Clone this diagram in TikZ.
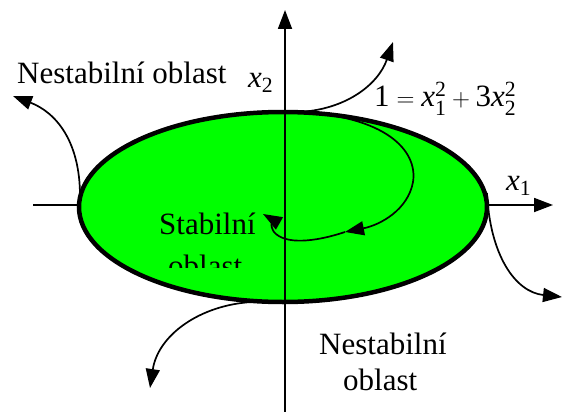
\documentclass[tikz,border=0pt]{standalone}
\usepackage{fontspec}
\usepackage{amsmath}
\setmainfont{Liberation Serif}
\usetikzlibrary{arrows.meta}
\newcommand{\xv}[2]{\textit{x}^{\text{#1}}_{\text{#2}}}

\begin{document}
\begin{tikzpicture}[x=1pt, y=-1pt, >={Triangle[length=19pt,width=14pt]},
  axis/.style={line width=1.8pt},
  traj/.style={line width=1.7pt},
  lbl/.style={font=\fontsize{31}{36}\selectfont, inner sep=0pt, anchor=base west}]
  \useasboundingbox (0,0) rectangle (562,412);
  % axes and stability region
  \coordinate (xl) at (33,205);
  \coordinate (xr) at (553,205);
  \coordinate (yb) at (285,412);
  \coordinate (yt) at (285,10);
  \draw[axis,->] (xl) -- (xr);
  \draw[line width=4.5pt, fill={rgb,255:red,0;green,255;blue,0}]
       (283,207) ellipse [x radius=204pt, y radius=95pt];
  \draw[axis,->] (yb) -- (yt);
  % trajectories
  \coordinate (pl) at (80,196);
  \coordinate (pt) at (298,112);
  \coordinate (pr) at (487,193);
  \coordinate (pb) at (252,302);
  \coordinate (al) at (13,96);
  \coordinate (at) at (393,42);
  \coordinate (ar) at (562,297);
  \coordinate (ab) at (150,388);
  \coordinate (sm) at (345,232);
  \coordinate (se) at (263,214);
  \draw[traj,->] (pl) .. controls (80,140) and (55,112) .. (al);
  \draw[traj,->] (pt) .. controls (345,110) and (378,85) .. (at);
  \draw[traj,->] (pr) .. controls (490,255) and (515,292) .. (ar);
  \draw[traj,->] (pb) .. controls (200,305) and (158,335) .. (ab);
  \draw[traj,->] (pt) .. controls (385,116) and (418,150) .. (413,182)
                      .. controls (408,210) and (380,225) .. (sm);
  \draw[traj,->] (sm) .. controls (315,242) and (285,245) .. (274,232)
                      .. controls (270,226) and (270,218) .. (se);
  % labels
  \node[lbl] (nl) at (17,83) {Nestabilní oblast};
  \node[lbl] (x2) at (248,87) {$\textit{x}_{\text{2}}$};
  \node[lbl] (x1) at (506,190) {$\textit{x}_{\text{1}}$};
  \node[lbl] (eq) at (374,106) {$\text{1} = \xv{2}{1} + \text{3}\xv{2}{2}$};
  \node[lbl] (st) at (159,234) {Stabilní};
  \begin{scope}
    \clip (150,240) rectangle (270,267);
    \node[lbl] (so) at (168,276) {oblast};
  \end{scope}
  \node[lbl] (nb) at (319,354) {Nestabilní};
  \node[lbl] (ob) at (343,390) {oblast};
\end{tikzpicture}
\end{document}
